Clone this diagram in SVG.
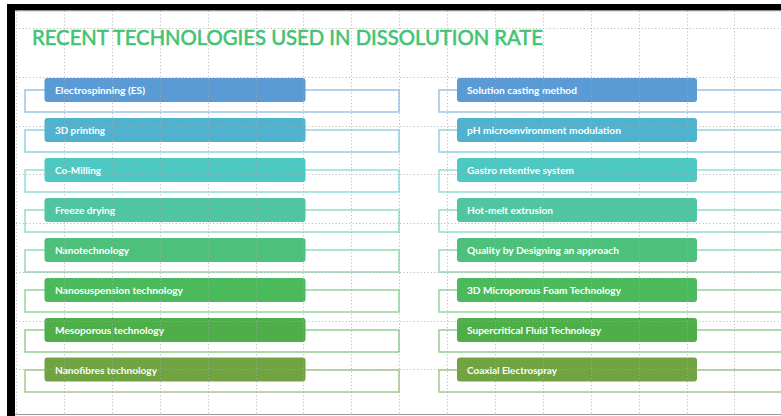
<svg xmlns="http://www.w3.org/2000/svg" width="781" height="416" viewBox="0 0 781 416">
  <style>
    .title { font-family: Lato, "Open Sans", "Liberation Sans", sans-serif; font-size: 21.5px; fill: #41C472; stroke: #41C472; stroke-width: 0.6; }
    .lbl { font-family: Lato, "Open Sans", "Liberation Sans", sans-serif; font-size: 10px; font-weight: bold; fill: #FFFFFF; }
    .bracket { fill: none; stroke-width: 1.5; }
    .grid line { stroke: #A8A8A8; stroke-width: 1; stroke-dasharray: 1 2.4; }
  </style>

  <!-- slide background and frame -->
  <rect x="0" y="0" width="781" height="416" fill="#FFFFFF"/>
  <rect x="7" y="4" width="774" height="6.5" fill="#000000"/>
  <rect x="7" y="4" width="8" height="412" fill="#000000"/>
  <line x1="15" y1="10.8" x2="781" y2="10.8" stroke="#9A9A9A" stroke-width="0.8"/>
  <line x1="15" y1="414.5" x2="781" y2="414.5" stroke="#9A9A9A" stroke-width="1"/>

  <text class="title" x="32" y="45" textLength="511" lengthAdjust="spacingAndGlyphs">RECENT TECHNOLOGIES USED IN DISSOLUTION RATE</text>

  <!-- bracket connectors behind each item -->
  <g id="connectors">
    <rect class="bracket" x="25" y="90" width="374" height="22" stroke="#9DC3E6"/>
    <rect class="bracket" x="25" y="130" width="374" height="22" stroke="#95D1E2"/>
    <rect class="bracket" x="25" y="170" width="374" height="22" stroke="#95DEDB"/>
    <rect class="bracket" x="25" y="210" width="374" height="22" stroke="#95DDC7"/>
    <rect class="bracket" x="25" y="250" width="374" height="22" stroke="#94DAB0"/>
    <rect class="bracket" x="25" y="290" width="374" height="22" stroke="#93D69D"/>
    <rect class="bracket" x="25" y="330" width="374" height="22" stroke="#95CE92"/>
    <rect class="bracket" x="25" y="370" width="374" height="22" stroke="#A9C88E"/>

    <rect class="bracket" x="439" y="90" width="350" height="22" stroke="#9DC3E6"/>
    <rect class="bracket" x="439" y="130" width="350" height="22" stroke="#95D1E2"/>
    <rect class="bracket" x="439" y="170" width="350" height="22" stroke="#95DEDB"/>
    <rect class="bracket" x="439" y="210" width="350" height="22" stroke="#95DDC7"/>
    <rect class="bracket" x="439" y="250" width="350" height="22" stroke="#94DAB0"/>
    <rect class="bracket" x="439" y="290" width="350" height="22" stroke="#93D69D"/>
    <rect class="bracket" x="439" y="330" width="350" height="22" stroke="#95CE92"/>
    <rect class="bracket" x="439" y="370" width="350" height="22" stroke="#A9C88E"/>
  </g>

  <!-- left column -->
  <g id="electrospinning">
    <rect x="44.5" y="78" width="261" height="24" rx="3" fill="#5B9BD5"/>
    <text class="lbl" x="55" y="94" textLength="90" lengthAdjust="spacingAndGlyphs">Electrospinning (ES)</text>
  </g>
  <g id="printing-3d">
    <rect x="44.5" y="118" width="261" height="24" rx="3" fill="#4FB3CF"/>
    <text class="lbl" x="55" y="134" textLength="50" lengthAdjust="spacingAndGlyphs">3D printing</text>
  </g>
  <g id="co-milling">
    <rect x="44.5" y="158" width="261" height="24" rx="3" fill="#4EC8C3"/>
    <text class="lbl" x="55" y="174" textLength="46" lengthAdjust="spacingAndGlyphs">Co-Milling</text>
  </g>
  <g id="freeze-drying">
    <rect x="44.5" y="198" width="261" height="24" rx="3" fill="#4FC6A1"/>
    <text class="lbl" x="55" y="214" textLength="60" lengthAdjust="spacingAndGlyphs">Freeze drying</text>
  </g>
  <g id="nanotechnology">
    <rect x="44.5" y="238" width="261" height="24" rx="3" fill="#4DC17B"/>
    <text class="lbl" x="55" y="254" textLength="74" lengthAdjust="spacingAndGlyphs">Nanotechnology</text>
  </g>
  <g id="nanosuspension">
    <rect x="44.5" y="278" width="261" height="24" rx="3" fill="#4BBA5C"/>
    <text class="lbl" x="55" y="294" textLength="128" lengthAdjust="spacingAndGlyphs">Nanosuspension technology</text>
  </g>
  <g id="mesoporous">
    <rect x="44.5" y="318" width="261" height="24" rx="3" fill="#4EAE4A"/>
    <text class="lbl" x="55" y="334" textLength="109" lengthAdjust="spacingAndGlyphs">Mesoporous technology</text>
  </g>
  <g id="nanofibres">
    <rect x="44.5" y="357.5" width="261" height="24" rx="3" fill="#70A443"/>
    <text class="lbl" x="55" y="373.5" textLength="102" lengthAdjust="spacingAndGlyphs">Nanofibres technology</text>
  </g>

  <!-- right column -->
  <g id="solution-casting">
    <rect x="457" y="78" width="240" height="24" rx="3" fill="#5B9BD5"/>
    <text class="lbl" x="467" y="94" textLength="110" lengthAdjust="spacingAndGlyphs">Solution casting method</text>
  </g>
  <g id="ph-modulation">
    <rect x="457" y="118" width="240" height="24" rx="3" fill="#4FB3CF"/>
    <text class="lbl" x="467" y="134" textLength="154" lengthAdjust="spacingAndGlyphs">pH microenvironment modulation</text>
  </g>
  <g id="gastro-retentive">
    <rect x="457" y="158" width="240" height="24" rx="3" fill="#4EC8C3"/>
    <text class="lbl" x="467" y="174" textLength="107" lengthAdjust="spacingAndGlyphs">Gastro retentive system</text>
  </g>
  <g id="hot-melt">
    <rect x="457" y="198" width="240" height="24" rx="3" fill="#4FC6A1"/>
    <text class="lbl" x="467" y="214" textLength="86" lengthAdjust="spacingAndGlyphs">Hot-melt extrusion</text>
  </g>
  <g id="quality-by-design">
    <rect x="457" y="238" width="240" height="24" rx="3" fill="#4DC17B"/>
    <text class="lbl" x="467" y="254" textLength="152" lengthAdjust="spacingAndGlyphs">Quality by Designing an approach</text>
  </g>
  <g id="microporous-foam">
    <rect x="457" y="278" width="240" height="24" rx="3" fill="#4BBA5C"/>
    <text class="lbl" x="467" y="294" textLength="154" lengthAdjust="spacingAndGlyphs">3D Microporous Foam Technology</text>
  </g>
  <g id="supercritical-fluid">
    <rect x="457" y="318" width="240" height="24" rx="3" fill="#4EAE4A"/>
    <text class="lbl" x="467" y="334" textLength="134" lengthAdjust="spacingAndGlyphs">Supercritical Fluid Technology</text>
  </g>
  <g id="coaxial-electrospray">
    <rect x="457" y="357.5" width="240" height="24" rx="3" fill="#70A443"/>
    <text class="lbl" x="467" y="373.5" textLength="90" lengthAdjust="spacingAndGlyphs">Coaxial Electrospray</text>
  </g>

  <!-- editor guide grid drawn over the slide -->
  <g class="grid" opacity="0.85">
    <line x1="16.5" y1="11" x2="16.5" y2="414"/>
    <line x1="64.5" y1="11" x2="64.5" y2="414"/>
    <line x1="112.5" y1="11" x2="112.5" y2="414"/>
    <line x1="160.5" y1="11" x2="160.5" y2="414"/>
    <line x1="208.5" y1="11" x2="208.5" y2="414"/>
    <line x1="256.5" y1="11" x2="256.5" y2="414"/>
    <line x1="303.5" y1="11" x2="303.5" y2="414"/>
    <line x1="351.5" y1="11" x2="351.5" y2="414"/>
    <line x1="399.5" y1="11" x2="399.5" y2="414"/>
    <line x1="447.5" y1="11" x2="447.5" y2="414"/>
    <line x1="495.5" y1="11" x2="495.5" y2="414"/>
    <line x1="543.5" y1="11" x2="543.5" y2="414"/>
    <line x1="591.5" y1="11" x2="591.5" y2="414"/>
    <line x1="639.5" y1="11" x2="639.5" y2="414"/>
    <line x1="687.5" y1="11" x2="687.5" y2="414"/>
    <line x1="734.5" y1="11" x2="734.5" y2="414"/>

    <line x1="16" y1="28.5" x2="781" y2="28.5"/>
    <line x1="16" y1="77.5" x2="781" y2="77.5"/>
    <line x1="16" y1="126.5" x2="781" y2="126.5"/>
    <line x1="16" y1="174.5" x2="781" y2="174.5"/>
    <line x1="16" y1="223.5" x2="781" y2="223.5"/>
    <line x1="16" y1="272.5" x2="781" y2="272.5"/>
    <line x1="16" y1="321.5" x2="781" y2="321.5"/>
    <line x1="16" y1="369.5" x2="781" y2="369.5"/>
  </g>
</svg>
